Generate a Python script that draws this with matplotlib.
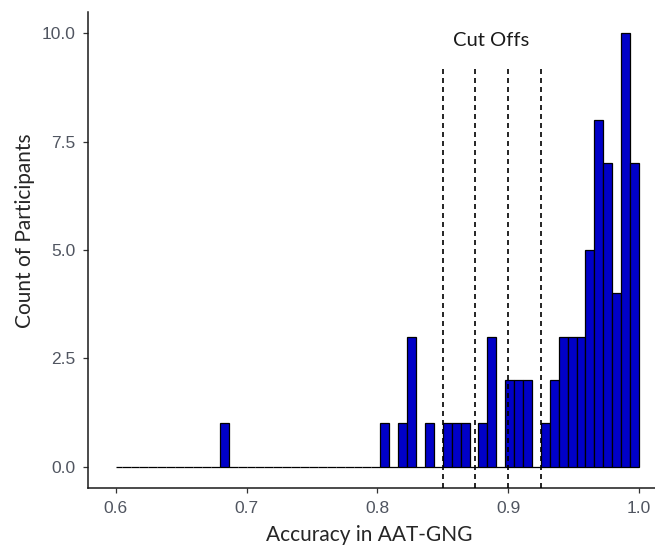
import numpy as np
import matplotlib
matplotlib.use("Agg")
import matplotlib.pyplot as plt

# ---- data ----
# histogram counts, left to right; bins end at 1.0, width 0.075/11
counts = [0, 0, 0, 0, 0, 0, 0, 0, 0, 0, 0, 0,
          1,
          0, 0, 0, 0, 0, 0, 0, 0, 0, 0, 0, 0, 0, 0, 0, 0, 0,
          1, 0, 1, 3, 0, 1, 0, 1, 1, 1, 0, 1, 3, 0, 2, 2, 2, 0,
          1, 2, 3, 3, 3, 5, 8, 7, 4, 10, 7]
bin_width = 0.075 / 11
x_right = 1.0
x_left_limit = 0.6
cutoffs = [0.85, 0.875, 0.9, 0.925]
cutoff_top = 9.27
x_ticks = [0.6, 0.7, 0.8, 0.9, 1.0]
x_tick_labels = ["0.6", "0.7", "0.8", "0.9", "1.0"]
y_ticks = [0.0, 2.5, 5.0, 7.5, 10.0]
y_tick_labels = ["0.0", "2.5", "5.0", "7.5", "10.0"]

n = len(counts)
edges = x_right - bin_width * np.arange(n, -1, -1)
edges[0] = max(edges[0], x_left_limit)
lefts = edges[:-1]
widths = np.diff(edges)

W, H = 655, 549
fig = plt.figure(figsize=(W / 100, H / 100), dpi=100)
ax = fig.add_axes([88.2 / W, (H - 488.4) / H, 578.3 / W, (488.4 - 11.7) / H])

ax.bar(lefts, counts, width=widths, align="edge", color="#0000c8",
       edgecolor="black", linewidth=0.9, zorder=2)

for c in cutoffs:
    ax.plot([c, c], [-0.5, cutoff_top], color="black", linewidth=1.2,
            linestyle=(0, (3.0, 2.4)), zorder=3)

ax.set_xlim(0.579, 1.021)
ax.set_ylim(-0.5, 10.5)

ax.set_xticks(x_ticks)
ax.set_xticklabels(x_tick_labels)
ax.set_yticks(y_ticks)
ax.set_yticklabels(y_tick_labels)

for s in ["top", "right"]:
    ax.spines[s].set_visible(False)
for s in ["left", "bottom"]:
    ax.spines[s].set_linewidth(1.1)
    ax.spines[s].set_color("#1a1a1a")

ax.tick_params(axis="both", length=3.6, width=0.9, color="#333333",
               labelcolor="#505560", labelsize=12.5, pad=5.5)
for lab in ax.get_xticklabels() + ax.get_yticklabels():
    lab.set_family("Liberation Sans")

title_font = "Lato"
fig.text(369 / W, 1 - 535 / H, "Accuracy in AAT-GNG", ha="center", va="center",
         fontsize=15, family=title_font, color="#262626")
fig.text(25 / W, 1 - 231 / H, "Count of Participants", ha="center", va="center",
         rotation=90, fontsize=15, family=title_font, color="#262626")
fig.text(491 / W, 1 - 40 / H, "Cut Offs", ha="center", va="center",
         fontsize=14.5, family=title_font, color="#1a1a1a")

fig.savefig("out.png", dpi=100)
